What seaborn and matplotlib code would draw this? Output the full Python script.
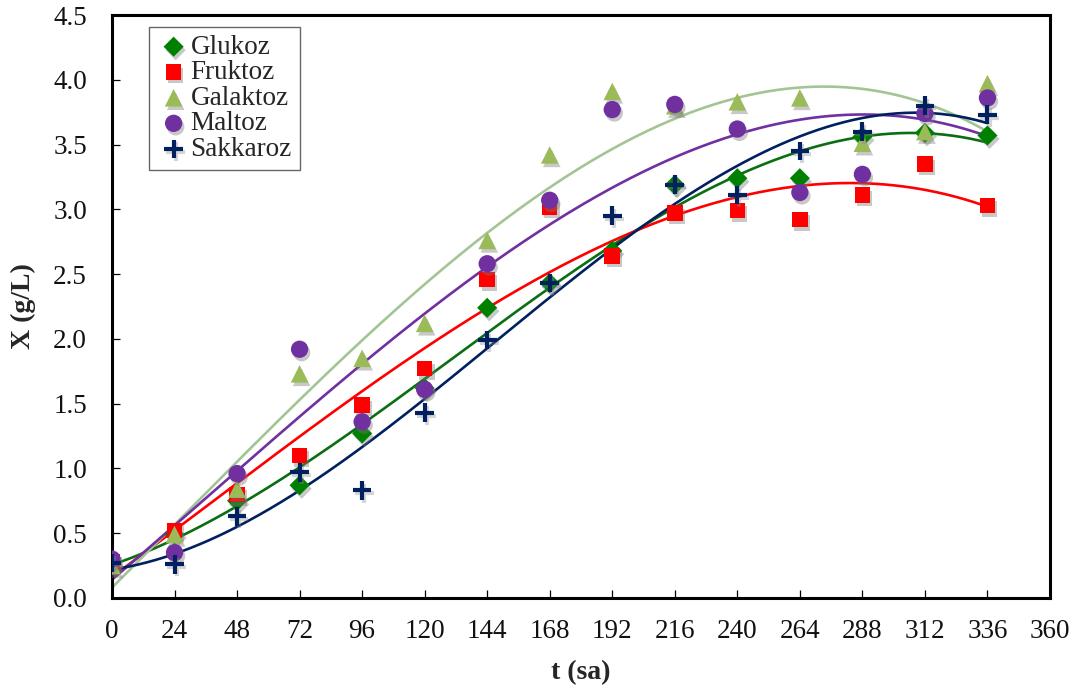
import numpy as np
import pandas as pd
import matplotlib
matplotlib.use("Agg")
import matplotlib.pyplot as plt
import matplotlib.patheffects as pe
import seaborn as sns

# Sampling times (hours)
t = [0, 24, 48, 72, 96, 120, 144, 168, 192, 216, 240, 264, 288, 312, 336]

# Biomass concentration X (g/L) for each carbon source
glukoz = [0.27, 0.49, 0.75, 0.87, 1.27, 1.62, 2.24, 2.43, 2.68, 3.19, 3.24, 3.24, 3.56, 3.59, 3.57]
fruktoz = [0.28, 0.52, 0.80, 1.10, 1.49, 1.77, 2.46, 3.02, 2.64, 2.97, 2.99, 2.92, 3.11, 3.35, 3.03]
galaktoz = [0.25, 0.49, 0.84, 1.73, 1.85, 2.12, 2.76, 3.42, 3.91, 3.80, 3.83, 3.86, 3.51, 3.60, 3.97]
maltoz = [0.30, 0.35, 0.96, 1.92, 1.36, 1.61, 2.58, 3.07, 3.77, 3.81, 3.62, 3.13, 3.27, 3.74, 3.86]
sakkaroz = [0.27, 0.26, 0.63, 0.97, 0.83, 1.43, 1.99, 2.43, 2.95, 3.19, 3.11, 3.45, 3.60, 3.80, 3.73]

names = ["Glukoz", "Fruktoz", "Galaktoz", "Maltoz", "Sakkaroz"]
values = [glukoz, fruktoz, galaktoz, maltoz, sakkaroz]

x_ticks = list(range(0, 361, 24))
y_ticks = [0.0, 0.5, 1.0, 1.5, 2.0, 2.5, 3.0, 3.5, 4.0, 4.5]

styles = {
    "Glukoz":   dict(marker="D", color="#008000", line="#0a6e12", s=105),
    "Fruktoz":  dict(marker="s", color="#ff0000", line="#ff0000", s=125),
    "Galaktoz": dict(marker="^", color="#9bbb59", line="#a3c595", s=160),
    "Maltoz":   dict(marker="o", color="#7030a0", line="#7030a0", s=155),
    "Sakkaroz": dict(marker="+", color="#002060", line="#002060", s=180),
}

df = pd.DataFrame({"t": np.tile(t, len(names)),
                   "X": np.concatenate(values),
                   "seker": np.repeat(names, len(t))})

sns.set_theme(style="white")
plt.rcParams["font.family"] = ["Liberation Serif", "DejaVu Serif"]
plt.rcParams["mathtext.fontset"] = "stix"

fig = plt.figure(figsize=(10.81, 6.95), dpi=100)
ax = fig.add_axes([0.1036, 0.1396, 0.8677, 0.8388])

# Third-order polynomial trend lines
t_fine = np.linspace(0, 336, 300)
for name in names:
    sub = df[df["seker"] == name]
    coef = np.polyfit(sub["t"], sub["X"], 3)
    fit = pd.DataFrame({"t": t_fine, "X": np.polyval(coef, t_fine)})
    sns.lineplot(data=fit, x="t", y="X", ax=ax, color=styles[name]["line"],
                 linewidth=1.9, zorder=2, legend=False)

# Measured points with a soft drop shadow
for name in names:
    st = styles[name]
    sub = df[df["seker"] == name]
    if st["marker"] == "+":
        sns.scatterplot(data=sub, x="t", y="X", ax=ax, marker="+", color=st["color"],
                        s=st["s"], linewidth=3, label=name, zorder=3)
        shadow = [pe.SimpleLineShadow(offset=(1.5, -2), shadow_color="#888888", alpha=0.35), pe.Normal()]
    else:
        sns.scatterplot(data=sub, x="t", y="X", ax=ax, marker=st["marker"], color=st["color"],
                        s=st["s"], linewidth=0, edgecolor="none", label=name, zorder=3)
        shadow = [pe.SimplePatchShadow(offset=(1.5, -2.5), shadow_rgbFace="#777777", alpha=0.4), pe.Normal()]
    ax.collections[-1].set_path_effects(shadow)

ax.set_xlim(0, 360)
ax.set_ylim(0, 4.5)
ax.set_xticks(x_ticks)
ax.set_yticks(y_ticks)
ax.set_yticklabels([f"{v:.1f}" for v in y_ticks])

for sp in ax.spines.values():
    sp.set_visible(True)
    sp.set_color("black")
    sp.set_linewidth(2.2)

ax.tick_params(axis="both", direction="in", length=6, width=0.9, colors="black",
               labelsize=19.5, labelcolor="#111111")
ax.tick_params(axis="x", pad=15)
ax.tick_params(axis="y", pad=18)
ax.tick_params(top=False, right=False, bottom=True, left=True)

ax.set_xlabel("t (sa)", fontsize=20, fontweight="bold", labelpad=12)
ax.set_ylabel("X (g/L)", fontsize=20, fontweight="bold", labelpad=12)

leg = ax.legend(loc="upper left", bbox_to_anchor=(0.039, 0.98), borderaxespad=0,
                fontsize=19.5, frameon=True, fancybox=False, labelspacing=0.02,
                handletextpad=0.0, handlelength=1.25, borderpad=0.3)
leg.get_frame().set_edgecolor("#404040")
leg.get_frame().set_linewidth(1.0)

fig.savefig("out.png", dpi=100)
